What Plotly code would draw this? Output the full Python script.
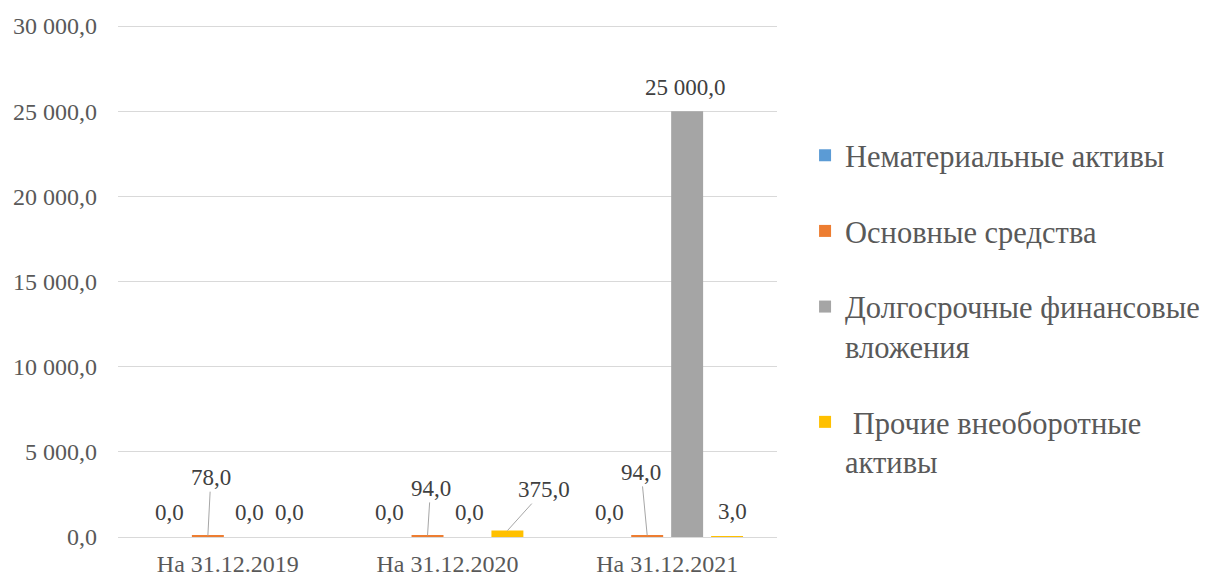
import plotly.graph_objects as go

categories = ["На 31.12.2019", "На 31.12.2020", "На 31.12.2021"]
series_names = [
    "Нематериальные активы",
    "Основные средства",
    "Долгосрочные финансовые<br>вложения",
    " Прочие внеоборотные<br>активы",
]
intangible = [0.0, 0.0, 0.0]
fixed_assets = [78.0, 94.0, 94.0]
long_term_fin = [0.0, 0.0, 25000.0]
other_noncurrent = [0.0, 375.0, 3.0]
series_values = [intangible, fixed_assets, long_term_fin, other_noncurrent]
colors = ["#5B9BD5", "#ED7D31", "#A5A5A5", "#FFC000"]
y_ticks = [0, 5000, 10000, 15000, 20000, 25000, 30000]

FONT = "Liberation Serif"
TXT = "#595959"
LBL = "#404040"

fig = go.Figure()
for name, vals, col in zip(series_names, series_values, colors):
    fig.add_trace(go.Bar(
        x=list(range(len(categories))), y=vals, name=name,
        marker=dict(color=col, line=dict(width=0)),
        legendgroup=name,
    ))

BARGAP = 60 / 220
slot = (1 - BARGAP) / 4
offsets = [(-1.5 + i) * slot for i in range(4)]


def fmt(v):
    s = f"{v:,.1f}"
    return s.replace(",", " ").replace(".", ",")

# label placement: (series, category) -> (dx, dy, leader line)
special = {
    (1, 0): (3, -58, True),
    (1, 1): (3, -47, True),
    (3, 1): (37, -41, True),
    (1, 2): (-6, -63, True),
    (2, 2): (-2, -24, False),
    (3, 2): (5, -25, False),
}
annotations = []
for si, vals in enumerate(series_values):
    for ci, v in enumerate(vals):
        dx, dy, arrow = special.get((si, ci), (2, -25, False))
        xx = ci + offsets[si]
        if arrow:
            annotations.append(dict(
                x=xx, y=v, xref="x", yref="y", text=fmt(v), showarrow=True,
                arrowhead=0, arrowwidth=1, arrowcolor="#A6A6A6", standoff=0,
                ax=dx, ay=dy, font=dict(family=FONT, size=23, color=LBL),
            ))
        else:
            annotations.append(dict(
                x=xx, y=v, xref="x", yref="y", text=fmt(v), showarrow=False,
                xshift=dx, yshift=-dy, font=dict(family=FONT, size=23, color=LBL),
            ))

fig.update_layout(
    width=1216, height=576,
    margin=dict(l=118, r=438, t=25, b=39),
    paper_bgcolor="white", plot_bgcolor="white",
    barmode="group", bargap=BARGAP, bargroupgap=0.2,
    separators=", ",
    font=dict(family=FONT, color=TXT),
    showlegend=True,
    legend=dict(
        x=1.041, xanchor="left", y=0.797, yanchor="top",
        font=dict(family=FONT, size=30.5, color=TXT),
        traceorder="grouped", tracegroupgap=33, valign="top",
        itemclick=False,
    ),
    annotations=annotations,
    xaxis=dict(
        tickmode="array", tickvals=list(range(len(categories))), ticktext=categories,
        range=[-0.5, 2.5], showgrid=False, zeroline=False, showline=False,
        tickfont=dict(family=FONT, size=24, color=TXT), ticks="",
        ticklabelstandoff=10, automargin=False,
    ),
    yaxis=dict(
        range=[0, 30060], tickvals=y_ticks, tickformat=",.1f",
        showgrid=True, gridcolor="#D9D9D9", gridwidth=1,
        zeroline=True, zerolinecolor="#D9D9D9", zerolinewidth=1,
        showline=False, ticks="", ticklabelstandoff=20, automargin=False,
        tickfont=dict(family=FONT, size=24, color=TXT),
    ),
)

fig.write_html("out.html")
